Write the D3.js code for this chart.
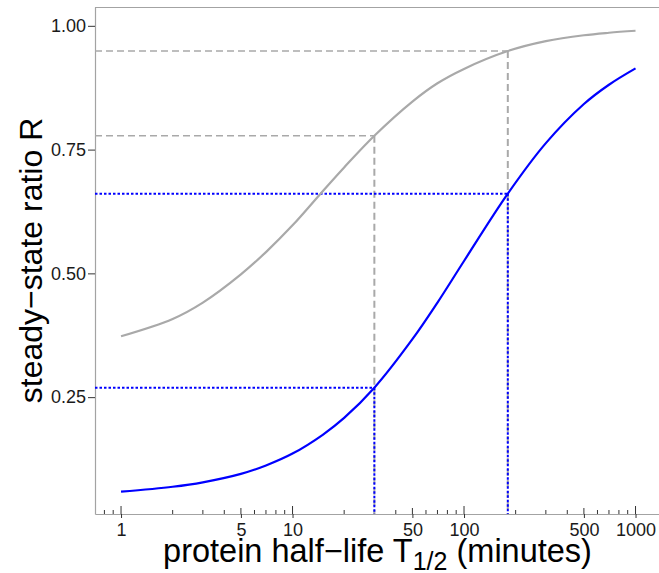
<!DOCTYPE html>
<html>
<head>
<meta charset="utf-8">
<script src="https://cdn.jsdelivr.net/npm/d3@7"></script>
<style>
  body { margin: 0; background: #fff; }
  svg { display: block; font-family: "Liberation Sans", Arial, sans-serif; }
</style>
</head>
<body>
<div id="area"></div>
<script>
// values
var halfLife  = [1, 2, 3, 5, 7, 10, 15, 20, 30, 50, 70, 100, 180, 300, 500, 700, 1000];
var ratioGray = [0.373, 0.408, 0.441, 0.498, 0.543, 0.597, 0.666, 0.714, 0.778, 0.847, 0.884, 0.913, 0.949, 0.969, 0.981, 0.986, 0.990];
var ratioBlue = [0.059, 0.069, 0.078, 0.095, 0.112, 0.136, 0.174, 0.208, 0.269, 0.367, 0.441, 0.525, 0.661, 0.763, 0.842, 0.881, 0.914];

// guide lines
var guideT    = [30, 180];
var guideGray = [0.778, 0.949];
var guideBlue = [0.269, 0.661];

var xTicks = [1, 5, 10, 50, 100, 500, 1000];
var yTicks = [0.25, 0.50, 0.75, 1.00];

var width = 659, height = 573;
var pLeft = 95, pRight = 660, pTop = 7, pBottom = 514;

var svg = d3.select("#area")
  .append("svg")
    .attr("width", width)
    .attr("height", height);

var x = d3.scaleLog()
  .domain([0.705, 1389])
  .range([pLeft, pRight]);

var y = d3.scaleLinear()
  .domain([0.014, 1.038])
  .range([pBottom, pTop]);

var axisColor = "#a3a3a3";

// top border of the panel
svg.append("line")
  .attr("x1", pLeft).attr("x2", width)
  .attr("y1", pTop + 0.5).attr("y2", pTop + 0.5)
  .style("stroke", axisColor)
  .style("stroke-width", 1.2);

// log ticks inside the panel
var logTicks = [];
[0.1, 1, 10, 100, 1000].forEach(function(dec) {
  for (var k = 1; k <= 9; k++) {
    var v = dec * k;
    if (v >= x.domain()[0] && v <= x.domain()[1]) logTicks.push({v: v, k: k});
  }
});
svg.append("g")
  .selectAll("line")
  .data(logTicks)
  .enter()
  .append("line")
    .attr("x1", function(d) { return x(d.v); })
    .attr("x2", function(d) { return x(d.v); })
    .attr("y1", pBottom)
    .attr("y2", function(d) { return pBottom - (d.k == 1 ? 8 : d.k == 5 ? 6 : 4); })
    .style("stroke", "#333")
    .style("stroke-width", 1);

// x axis
var gx = svg.append("g")
  .attr("transform", "translate(0," + pBottom + ")")
  .call(d3.axisBottom(x)
    .tickValues(xTicks)
    .tickFormat(d3.format("d"))
    .tickSize(4)
    .tickSizeOuter(0)
    .tickPadding(5));
gx.select(".domain").style("stroke", axisColor).style("stroke-width", 1.2);
gx.selectAll(".tick line").style("stroke", "#333");
gx.selectAll("text").style("font-size", "18px").style("fill", "#1a1a1a")
  .style("font-family", "'Liberation Sans', Arial, sans-serif");

// y axis
var gy = svg.append("g")
  .attr("transform", "translate(" + pLeft + ",0)")
  .call(d3.axisLeft(y)
    .tickValues(yTicks)
    .tickFormat(d3.format(".2f"))
    .tickSize(7)
    .tickSizeOuter(0)
    .tickPadding(2));
gy.select(".domain").style("stroke", axisColor).style("stroke-width", 1.2);
gy.selectAll(".tick line").style("stroke", "#333");
gy.selectAll("text").style("font-size", "18px").style("fill", "#1a1a1a")
  .style("font-family", "'Liberation Sans', Arial, sans-serif");

// gray dashed guides
guideT.forEach(function(t, i) {
  svg.append("line")
    .attr("x1", pLeft).attr("x2", x(t))
    .attr("y1", y(guideGray[i])).attr("y2", y(guideGray[i]))
    .style("stroke", "#a9a9a9").style("stroke-width", 1.5)
    .style("stroke-dasharray", "7,4");
  svg.append("line")
    .attr("x1", x(t)).attr("x2", x(t))
    .attr("y1", y(guideGray[i])).attr("y2", pBottom)
    .style("stroke", "#a9a9a9").style("stroke-width", 2)
    .style("stroke-dasharray", "7,4");
});

// blue dotted guides
guideT.forEach(function(t, i) {
  svg.append("line")
    .attr("x1", pLeft).attr("x2", x(t))
    .attr("y1", y(guideBlue[i])).attr("y2", y(guideBlue[i]))
    .style("stroke", "#0000ff").style("stroke-width", 2)
    .style("stroke-dasharray", "2.5,2");
  svg.append("line")
    .attr("x1", x(t)).attr("x2", x(t))
    .attr("y1", y(guideBlue[i])).attr("y2", pBottom)
    .style("stroke", "#0000ff").style("stroke-width", 2)
    .style("stroke-dasharray", "2.5,2");
});

// curves
var line = d3.line()
  .x(function(d) { return x(d[0]); })
  .y(function(d) { return y(d[1]); })
  .curve(d3.curveCatmullRom.alpha(0.5));

svg.append("path")
  .datum(d3.zip(halfLife, ratioGray))
  .attr("d", line)
  .style("fill", "none")
  .style("stroke", "#a9a9a9")
  .style("stroke-width", 2.2);

svg.append("path")
  .datum(d3.zip(halfLife, ratioBlue))
  .attr("d", line)
  .style("fill", "none")
  .style("stroke", "#0000ff")
  .style("stroke-width", 2.2);

// axis titles
svg.append("text")
  .attr("transform", "translate(42," + ((pTop + pBottom) / 2) + ") rotate(-90)")
  .attr("text-anchor", "middle")
  .style("font-size", "32px")
  .style("fill", "#000")
  .text("steady\u2212state ratio R");

var xt = svg.append("text")
  .attr("x", (pLeft + pRight) / 2)
  .attr("y", 562)
  .attr("text-anchor", "middle")
  .style("font-size", "32.5px")
  .style("fill", "#000");
xt.append("tspan").text("protein half\u2212life T");
xt.append("tspan").attr("dy", 8).style("font-size", "25px").text("1/2");
xt.append("tspan").attr("dy", -8).text(" (minutes)");
</script>
</body>
</html>
